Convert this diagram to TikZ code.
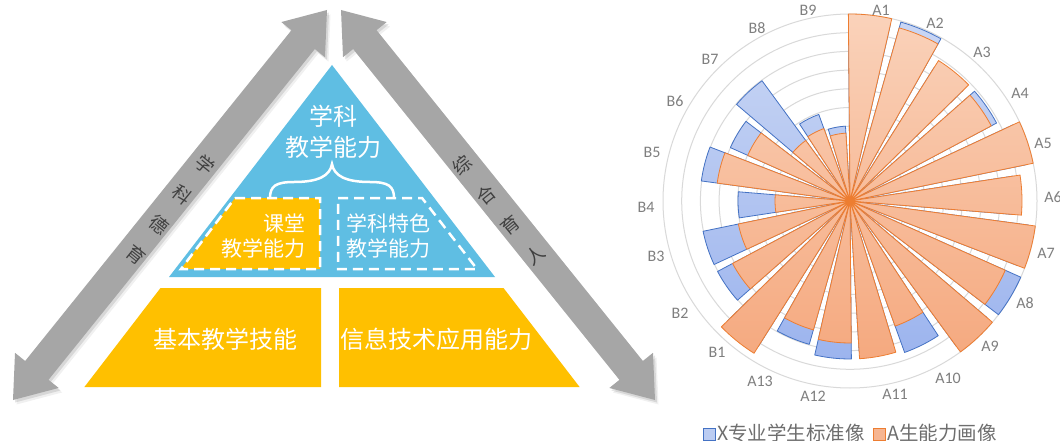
\documentclass[tikz,border=0pt]{standalone}
\usepackage{fontspec}
\setmainfont{Carlito}
\newfontfamily\cjk{Noto Sans CJK SC}
\usetikzlibrary{calc}
\definecolor{pyblue}{HTML}{5FBEE3}
\definecolor{pyyel}{HTML}{FFC000}
\definecolor{arrgray}{HTML}{A6A6A6}
\definecolor{arrtxt}{HTML}{404040}
\definecolor{gridc}{HTML}{D9D9D9}
\definecolor{orline}{HTML}{ED7D31}
\definecolor{bluline}{HTML}{4472C4}
\definecolor{ortop}{HTML}{FAD2BA}
\definecolor{orbot}{HTML}{F5A97F}
\definecolor{bltop}{HTML}{C9D6F4}
\definecolor{blbot}{HTML}{9CB4EE}
\definecolor{labc}{HTML}{7F7F7F}
\definecolor{legc}{HTML}{6E6E6E}
\newcommand\larrpath{(13,400) -- (58.64,387.96) -- (48.51,379.81) -- (314.85,49.01) -- (324.98,57.16) -- (327,10) -- (281.36,22.04) -- (291.49,30.19) -- (25.15,360.99) -- (15.02,352.84) -- cycle}
\newcommand\rarrpath{(655,400) -- (609.36,387.96) -- (619.49,379.81) -- (353.15,49.01) -- (343.02,57.16) -- (341,10) -- (386.64,22.04) -- (376.51,30.19) -- (642.85,360.99) -- (652.98,352.84) -- cycle}
\tikzset{
  arrowshape/.style={fill=arrgray},
  arrchar/.style={text=arrtxt, font=\cjk\fontsize{18.5}{18.5}\selectfont, inner sep=0pt},
  pytext/.style={text=white, font=\cjk\fontsize{24}{31}\selectfont, inner sep=0pt},
  boxtext/.style={text=white, font=\cjk\fontsize{21}{25}\selectfont, inner sep=0pt},
  dashbox/.style={draw=white, line width=2.5pt, dash pattern=on 10pt off 6pt},
  clabel/.style={text=labc, font=\fontsize{16}{16}\selectfont, inner sep=0pt},
  legtext/.style={text=legc, font=\cjk\fontsize{19.5}{20}\selectfont, inner sep=0pt, anchor=west},
  gridline/.style={draw=gridc, line width=1pt},
  orout/.style={draw=orline, line width=0.8pt},
  blout/.style={draw=bluline, line width=0.8pt},
}
\begin{document}
\begin{tikzpicture}[x=1pt,y=-1pt]
\useasboundingbox (0,0) rectangle (1060,441);
\fill[white] (0,0) rectangle (1060,441);

% ---------- double arrows ----------
\fill[black, opacity=0.06, shift={(3.5,4.5)}] \larrpath;
\fill[black, opacity=0.10, shift={(2,2.5)}] \larrpath;
\fill[arrowshape] \larrpath;
\fill[black, opacity=0.06, shift={(3.5,4.5)}] \rarrpath;
\fill[black, opacity=0.10, shift={(2,2.5)}] \rarrpath;
\fill[arrowshape] \rarrpath;

\node[arrchar, rotate=-39] (l1) at (205,165) {学};
\node[arrchar, rotate=-39] (l2) at (182,195) {科};
\node[arrchar, rotate=-39] (l3) at (159,225) {德};
\node[arrchar, rotate=-39] (l4) at (136,255) {育};
\node[arrchar, rotate=39] (r1) at (462,165) {综};
\node[arrchar, rotate=39] (r2) at (486,195) {合};
\node[arrchar, rotate=39] (r3) at (510,225) {育};
\node[arrchar, rotate=39] (r4) at (535,255) {人};

% ---------- pyramid ----------
\fill[pyblue] (332,65) -- (495,277) -- (169,277) -- cycle;
\fill[pyyel] (160.5,288) -- (321,288) -- (321,387) -- (84.4,387) -- cycle;
\fill[pyyel] (339,288) -- (503.5,288) -- (579.6,387) -- (339,387) -- cycle;

\node[pytext, align=center] (top) at (333,132) {学科\\教学能力};
\draw[white, line width=2.5pt, line cap=round]
  (270,198) .. controls (270,186) and (276,182) .. (294,182)
  .. controls (318,182) and (330,176) .. (332,164)
  .. controls (334,176) and (346,182) .. (370,182)
  .. controls (388,182) and (394,186) .. (394,198);

\filldraw[fill=pyyel, dashbox] (235,198) -- (320,198) -- (320,269) -- (181,269) -- cycle;
\draw[dashbox] (338,198) -- (422,198) -- (477,269) -- (338,269) -- cycle;
\node[boxtext, align=right, anchor=east] (kt) at (306,236) {课堂\\教学能力};
\node[boxtext, align=left, anchor=west] (xt) at (346,236) {学科特色\\教学能力};

\node[pytext] (jb) at (225,339) {基本教学技能};
\node[pytext] (xx) at (436,339) {信息技术应用能力};

% ---------- rose chart ----------
\coordinate (O) at (850,201);
\foreach \i in {1,...,10} \draw[gridline] (O) circle[radius=18.7*\i];

\def\roselist{0/187/180, 1/180/186, 2/166/158, 3/160/166, 4/187/180, 5/172/165, 6/187/180, 7/170/187, 8/187/180, 9/133/161, 10/158/150, 11/142/158, 12/134/149, 13/180/172, 14/133/150, 15/114/150, 16/75/112, 17/134/150, 18/112/131, 19/75/149, 20/77/92, 21/68/75}

\shade[top color=bltop, bottom color=blbot]
  \foreach \k/\o/\b [evaluate=\k as \s using 16.3636*\k-90.5, evaluate=\k as \e using 16.3636*\k-77.1] in \roselist
  { (O) -- ++(\s:\b) arc[start angle=\s, end angle=\e, radius=\b] -- cycle };
\foreach \k/\o/\b [evaluate=\k as \s using 16.3636*\k-90.5, evaluate=\k as \e using 16.3636*\k-77.1] in \roselist
  \draw[blout, line join=round] (O) -- ++(\s:\b) arc[start angle=\s, end angle=\e, radius=\b] -- cycle;

\shade[top color=ortop, bottom color=orbot]
  \foreach \k/\o/\b [evaluate=\k as \s using 16.3636*\k-90.5, evaluate=\k as \e using 16.3636*\k-77.1] in \roselist
  { (O) -- ++(\s:\o) arc[start angle=\s, end angle=\e, radius=\o] -- cycle };
\foreach \k/\o/\b [evaluate=\k as \s using 16.3636*\k-90.5, evaluate=\k as \e using 16.3636*\k-77.1] in \roselist
  \draw[orout, line join=round] (O) -- ++(\s:\o) arc[start angle=\s, end angle=\e, radius=\o] -- cycle;
\fill[orline] (O) circle[radius=2.5];

\foreach \n/\x/\y in {A1/881/10, A2/935/23, A3/982/52, A4/1020/93, A5/1043/143, A6/1053/197, A7/1046/253, A8/1025/303, A9/990/346, A10/948/378, A11/895/394, A12/813/396, A13/760/381, B1/717/352, B2/680/313, B3/656/256, B4/646/207, B5/652/152, B6/675/101, B7/710/59, B8/757/28, B9/808/10}
  \node[clabel] (lab\n) at (\x,\y) {\n};

% ---------- legend ----------
\filldraw[fill=bltop!70!blbot, draw=bluline, line width=0.8pt] (703,428) rectangle (715,440);
\node[legtext] (legx) at (717,433) {X专业学生标准像};
\filldraw[fill=orbot!70!ortop, draw=orline, line width=0.8pt] (873,428) rectangle (885,440);
\node[legtext] (lega) at (887,433) {A生能力画像};
\end{tikzpicture}
\end{document}
